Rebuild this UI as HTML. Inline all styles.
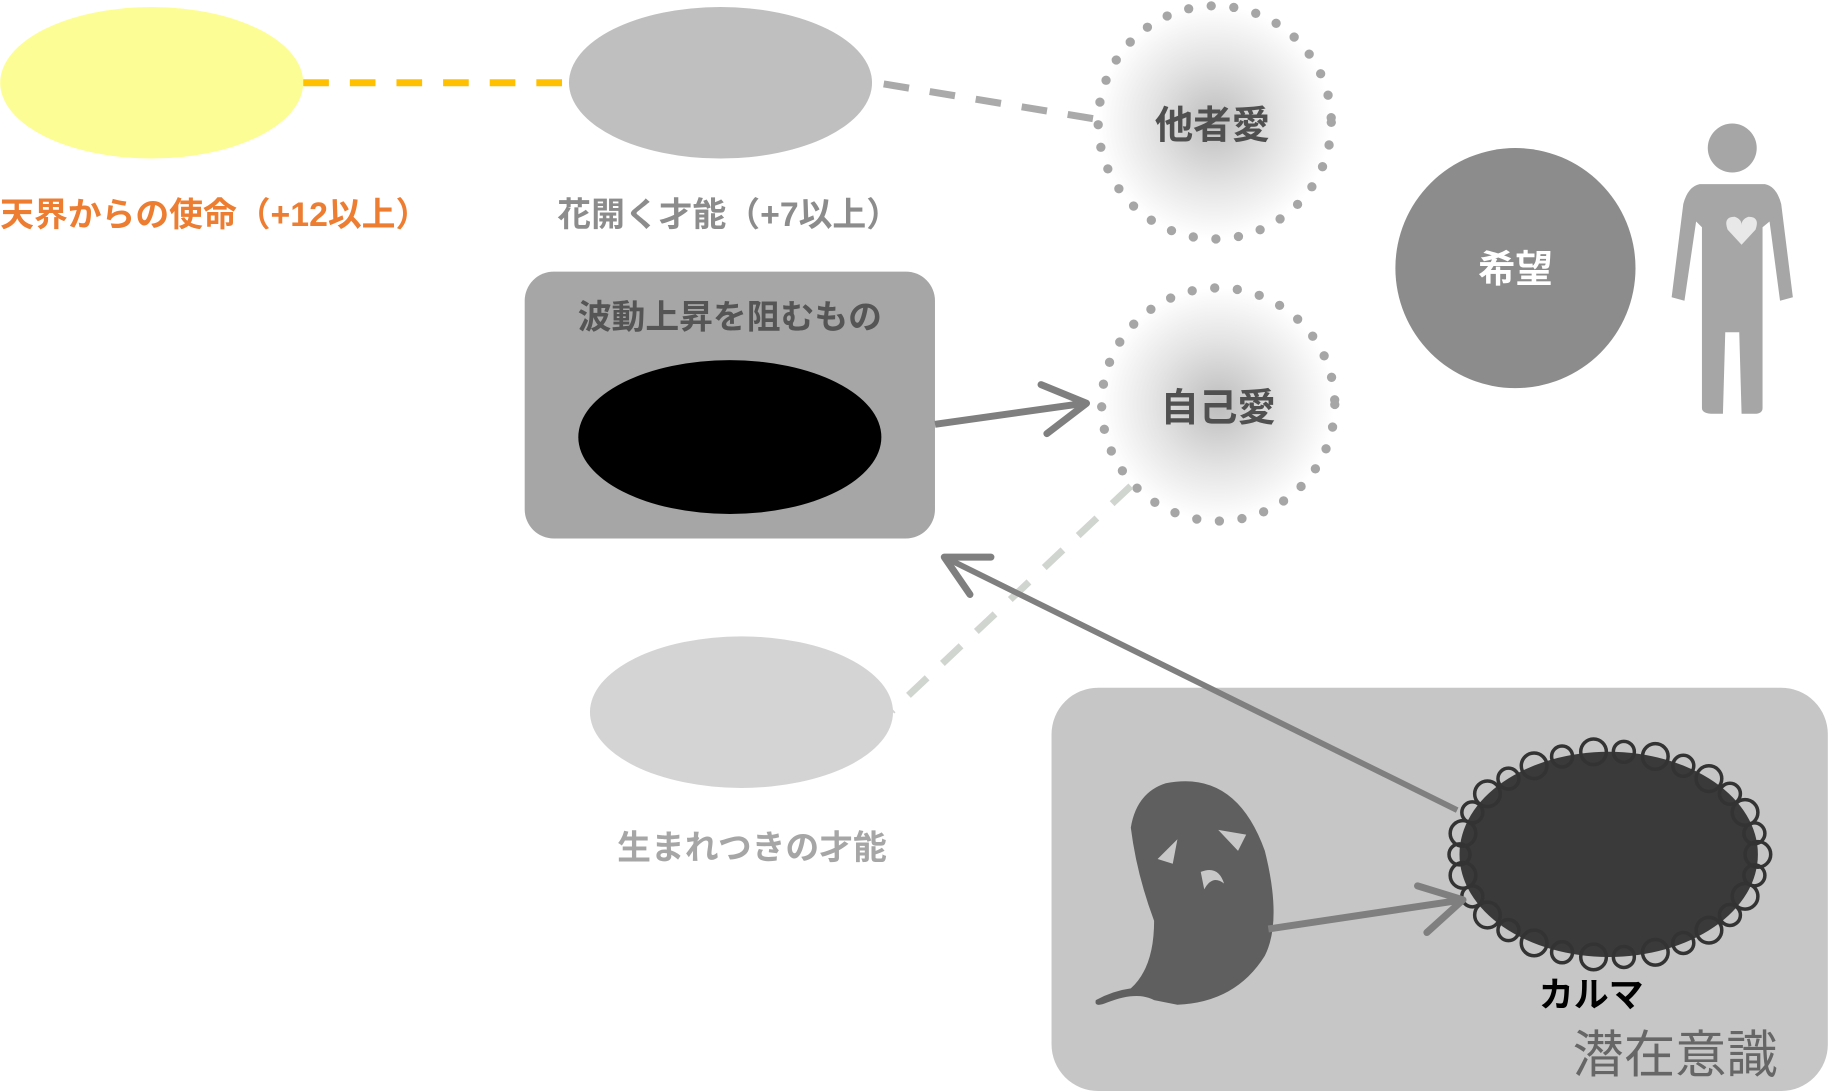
<!DOCTYPE html>
<html><head><meta charset="utf-8"><style>
html,body{margin:0;padding:0;background:#fff;width:1828px;height:1091px;overflow:hidden}
svg{display:block}
text{font-family:"Liberation Sans","Noto Sans CJK JP",sans-serif;font-weight:bold}
</style></head><body>
<svg width="1828" height="1091" viewBox="0 0 1568 936" xmlns="http://www.w3.org/2000/svg">
<defs>
<radialGradient id="rg"><stop offset="0" stop-color="#bdbdbd"/><stop offset="0.55" stop-color="#e4e4e4"/><stop offset="1" stop-color="#fff"/></radialGradient>
</defs>
<ellipse cx="130" cy="71" rx="130" ry="65" fill="#fdfd96"/>
<line x1="260" y1="71" x2="490" y2="71" stroke="#ffc000" stroke-width="6" stroke-dasharray="22 18"/>
<ellipse cx="618" cy="71" rx="130" ry="65" fill="#bfbfbf"/>
<line x1="758" y1="72" x2="945" y2="103" stroke="#aaa" stroke-width="6" stroke-dasharray="22 18"/>
<circle cx="1042" cy="105" r="100" fill="url(#rg)" stroke="#a6a6a6" stroke-width="8" stroke-dasharray="0 19.5" stroke-linecap="round"/>
<text x="1040" y="119" font-size="33" fill="#505050" text-anchor="middle">他者愛</text>
<text x="0" y="194" font-size="29" fill="#ed7d31">天界からの使命（+12以上）</text>
<text x="478" y="194" font-size="29" fill="#8c8c8c">花開く才能（+7以上）</text>
<circle cx="1300" cy="230" r="103" fill="#8c8c8c"/>
<text x="1300" y="242" font-size="32" fill="#fff" text-anchor="middle">希望</text>
<g fill="#a6a6a6">
<circle cx="1486" cy="127" r="21"/>
<path d="M1458 158 Q1448 160 1444 175 L1434 255 L1445 258 L1455 190 L1460 195 L1460 350 Q1460 355 1470 355 L1478 355 L1480 285 L1492 285 L1494 355 L1505 355 Q1512 355 1512 350 L1512 195 L1518 190 L1527 258 L1538 255 L1528 175 Q1524 160 1514 158 Z"/>
</g>
<path d="M1494 210 L1482 197 Q1478 186 1488 186 Q1494 188 1494 193 Q1494 188 1500 186 Q1510 186 1506 197 Z" fill="#e8e8e8"/>
<rect x="450" y="233" width="352" height="229" rx="25" fill="#a6a6a6"/>
<text x="626" y="282" font-size="29" fill="#555" text-anchor="middle">波動上昇を阻むもの</text>
<ellipse cx="626" cy="375" rx="130" ry="66" fill="#000"/>
<line x1="802" y1="364" x2="930" y2="346" stroke="#7f7f7f" stroke-width="6"/>
<polyline points="893,330 932,346 898,372" fill="none" stroke="#7f7f7f" stroke-width="6" stroke-linecap="round" stroke-linejoin="round"/>
<circle cx="1045" cy="347" r="100" fill="url(#rg)" stroke="#a6a6a6" stroke-width="8" stroke-dasharray="0 19.5" stroke-linecap="round"/>
<text x="1045" y="361" font-size="33" fill="#505050" text-anchor="middle">自己愛</text>
<line x1="970" y1="417" x2="765" y2="610" stroke="#d0d5d0" stroke-width="6" stroke-dasharray="22 18"/>
<ellipse cx="636" cy="611" rx="130" ry="65" fill="#d4d4d4"/>
<text x="645" y="737" font-size="29" fill="#a6a6a6" text-anchor="middle">生まれつきの才能</text>
<rect x="902" y="590" width="666" height="346" rx="40" fill="#c6c6c6"/>
<line x1="1250" y1="695" x2="810" y2="478" stroke="#7f7f7f" stroke-width="5"/>
<polyline points="850,478 810,478 832,510" fill="none" stroke="#7f7f7f" stroke-width="6" stroke-linecap="round" stroke-linejoin="round"/>
<ellipse cx="1380" cy="733" rx="128" ry="88" fill="#3a3a3a"/>
<g fill="none" stroke="#333" stroke-width="3">
<circle cx="1508" cy="733" r="11"/><circle cx="1505" cy="751" r="9"/><circle cx="1497" cy="769" r="11"/><circle cx="1484" cy="785" r="9"/><circle cx="1466" cy="798" r="11"/><circle cx="1444" cy="809" r="9"/><circle cx="1420" cy="817" r="11"/><circle cx="1393" cy="821" r="9"/><circle cx="1367" cy="821" r="11"/><circle cx="1340" cy="817" r="9"/><circle cx="1316" cy="809" r="11"/><circle cx="1294" cy="798" r="9"/><circle cx="1276" cy="785" r="11"/><circle cx="1263" cy="769" r="9"/><circle cx="1255" cy="751" r="11"/><circle cx="1252" cy="733" r="9"/><circle cx="1255" cy="715" r="11"/><circle cx="1263" cy="697" r="9"/><circle cx="1276" cy="681" r="11"/><circle cx="1294" cy="668" r="9"/><circle cx="1316" cy="657" r="11"/><circle cx="1340" cy="649" r="9"/><circle cx="1367" cy="645" r="11"/><circle cx="1393" cy="645" r="9"/><circle cx="1420" cy="649" r="11"/><circle cx="1444" cy="657" r="9"/><circle cx="1466" cy="668" r="11"/><circle cx="1484" cy="681" r="9"/><circle cx="1497" cy="697" r="11"/><circle cx="1505" cy="715" r="9"/>
</g>
<path d="M1000 672 Q1060 660 1085 730 Q1100 790 1085 820 Q1060 860 1010 862 L990 858 Q975 850 950 860 Q938 865 940 858 Q955 850 970 848 Q990 830 990 790 Q975 750 970 710 Q975 680 1000 672 Z" fill="#5f5f5f"/>
<path d="M1045 712 L1069 716 L1062 730 Z M1010 720 L993 737 L1006 741 Z M1030 748 Q1045 742 1050 758 Q1040 750 1033 763 Z" fill="#c8c8c8"/>
<line x1="1088" y1="797" x2="1255" y2="772" stroke="#7f7f7f" stroke-width="6"/>
<polyline points="1216,760 1255,772 1224,800" fill="none" stroke="#7f7f7f" stroke-width="6" stroke-linecap="round" stroke-linejoin="round"/>
<text x="1365" y="864" font-size="30" fill="#000" text-anchor="middle">カルマ</text>
<text x="1437" y="920" font-size="44" fill="#666" text-anchor="middle" style="font-weight:normal">潜在意識</text>
</svg>
</body></html>
